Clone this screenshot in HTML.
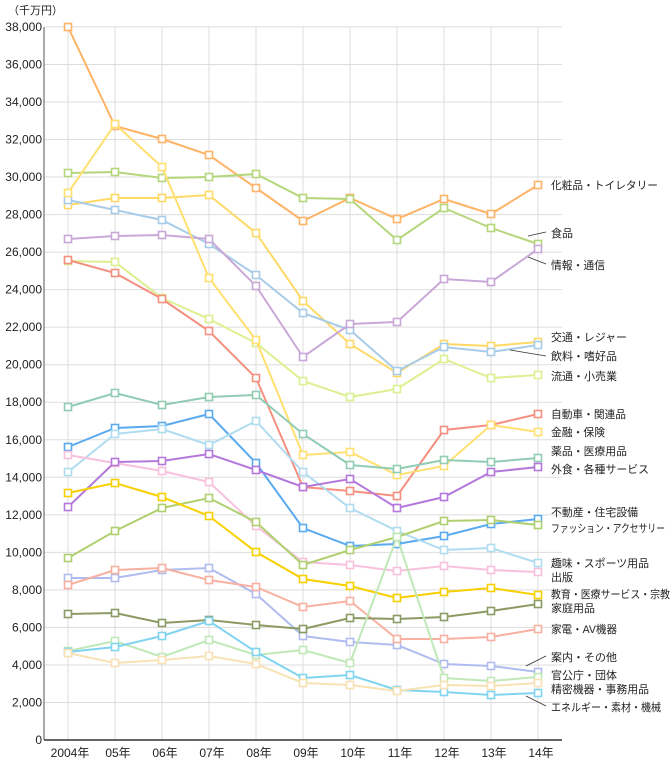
<!DOCTYPE html><html><head><meta charset="utf-8"><style>body{margin:0;background:#fff}svg{display:block;font-family:"Liberation Sans","Noto Sans CJK JP",sans-serif}</style></head><body>
<svg id="s" width="670" height="767" xmlns="http://www.w3.org/2000/svg">
<g id="grid"></g>
<text x="8" y="14" font-size="11" fill="#222">（千万円）</text>
<g font-size="12" fill="#222" text-anchor="end" id="yl"></g>
<g font-size="12" fill="#222" text-anchor="middle">
<text x="70" y="757">2004年</text><text x="118" y="757">05年</text><text x="165" y="757">06年</text><text x="212" y="757">07年</text><text x="259" y="757">08年</text><text x="306" y="757">09年</text><text x="353" y="757">10年</text><text x="400" y="757">11年</text><text x="447" y="757">12年</text><text x="494" y="757">13年</text><text x="541" y="757">14年</text></g>
<g id="series"></g>
<g stroke="#333" stroke-width="0.8"><line x1="528" y1="236" x2="546" y2="232"/><line x1="528" y1="257" x2="546" y2="264"/><line x1="510" y1="350" x2="546" y2="356"/><line x1="526" y1="666" x2="546" y2="656"/><line x1="526" y1="696" x2="546" y2="706"/></g>
<g font-size="11" fill="#222" lengthAdjust="spacingAndGlyphs">
<text x="551" y="189" textLength="107" lengthAdjust="spacingAndGlyphs">化粧品・トイレタリー</text>
<text x="551" y="237" textLength="22" lengthAdjust="spacingAndGlyphs">食品</text>
<text x="551" y="269" textLength="54" lengthAdjust="spacingAndGlyphs">情報・通信</text>
<text x="551" y="341" textLength="76" lengthAdjust="spacingAndGlyphs">交通・レジャー</text>
<text x="551" y="360" textLength="66" lengthAdjust="spacingAndGlyphs">飲料・嗜好品</text>
<text x="551" y="380" textLength="66" lengthAdjust="spacingAndGlyphs">流通・小売業</text>
<text x="551" y="418" textLength="75" lengthAdjust="spacingAndGlyphs">自動車・関連品</text>
<text x="551" y="436" textLength="54" lengthAdjust="spacingAndGlyphs">金融・保険</text>
<text x="551" y="455" textLength="76" lengthAdjust="spacingAndGlyphs">薬品・医療用品</text>
<text x="551" y="473" textLength="98" lengthAdjust="spacingAndGlyphs">外食・各種サービス</text>
<text x="551" y="516" textLength="87" lengthAdjust="spacingAndGlyphs">不動産・住宅設備</text>
<text x="551" y="532" textLength="114" lengthAdjust="spacingAndGlyphs">ファッション・アクセサリー</text>
<text x="551" y="567" textLength="98" lengthAdjust="spacingAndGlyphs">趣味・スポーツ用品</text>
<text x="551" y="581" textLength="22" lengthAdjust="spacingAndGlyphs">出版</text>
<text x="551" y="598" textLength="119" lengthAdjust="spacingAndGlyphs">教育・医療サービス・宗教</text>
<text x="551" y="612" textLength="44" lengthAdjust="spacingAndGlyphs">家庭用品</text>
<text x="551" y="633" textLength="66" lengthAdjust="spacingAndGlyphs">家電・AV機器</text>
<text x="551" y="661" textLength="66" lengthAdjust="spacingAndGlyphs">案内・その他</text>
<text x="551" y="679" textLength="66" lengthAdjust="spacingAndGlyphs">官公庁・団体</text>
<text x="551" y="693" textLength="98" lengthAdjust="spacingAndGlyphs">精密機器・事務用品</text>
<text x="551" y="711" textLength="110" lengthAdjust="spacingAndGlyphs">エネルギー・素材・機械</text></g>
</svg>
<script>
var NS="http://www.w3.org/2000/svg";
function el(p,t,a){var e=document.createElementNS(NS,t);for(var k in a)e.setAttribute(k,a[k]);p.appendChild(e);return e;}
var g=document.getElementById("grid"),yl=document.getElementById("yl");
for(var i=0;i<=19;i++){var y=740-i*37.53;el(g,"line",{x1:44,x2:562,y1:y,y2:y,stroke:"#ddd","stroke-width":1});var t=el(yl,"text",{x:42,y:y+4});t.textContent=i==0?"0":(i*2)+",000";}
for(var j=0;j<11;j++){var x=68+j*47;el(g,"line",{x1:x,x2:x,y1:27,y2:740,stroke:"#ddd","stroke-width":1});}
el(g,"line",{x1:44,x2:44,y1:27,y2:740,stroke:"#555","stroke-width":1});
el(g,"line",{x1:44,x2:562,y1:740,y2:740,stroke:"#333","stroke-width":1.5});
var S=[
["#ffb366",[27,126,139,155,188,221,198,219,199,214,185]],
["#b5d67a",[173,172,178,177,174,198,199,240,208,228,244]],
["#ffd966",[205,198,198,195,233,301,344,373,344,346,342]],
["#a8cce8",[200,210,220,244,275,313,330,371,347,352,345]],
["#c9a8d8",[239,236,235,239,286,357,324,322,279,282,249]],
["#dcf08f",[261,262,298,319,343,381,397,389,359,378,375]],
["#f59080",[260,273,299,331,378,487,491,496,430,425,414]],
["#ffe070",[193,124,167,278,340,455,452,475,466,425,432]],
["#90ccb4",[407,393,405,397,395,434,465,469,460,462,458]],
["#5aaaf0",[447,428,426,414,463,528,546,544,536,524,519]],
["#b0dcf0",[472,434,429,445,421,472,508,531,550,548,563]],
["#f8c0dc",[455,463,471,482,526,562,565,571,566,570,572]],
["#b478dc",[507,462,461,454,470,487,479,508,497,472,467]],
["#b0d070",[558,531,508,498,522,565,550,537,521,520,525]],
["#f8d000",[493,483,497,516,552,579,586,598,592,588,595]],
["#b0bcf0",[578,578,570,568,594,636,642,645,664,666,672]],
["#f8b0a0",[585,570,568,580,587,607,601,639,639,637,629]],
["#8c9a64",[614,613,623,620,625,629,618,619,617,611,604]],
["#c0e8b8",[651,641,657,640,655,650,663,537,678,681,677]],
["#80d4f0",[652,647,636,621,652,678,675,690,692,695,693]],
["#f8e2b4",[653,663,660,656,664,683,685,691,685,686,683]]];
var sg=document.getElementById("series");
S.forEach(function(s){var pts=s[1].map(function(y,j){return (68+j*47)+","+y}).join(" ");
el(sg,"polyline",{points:pts,fill:"none",stroke:s[0],"stroke-width":2});
s[1].forEach(function(y,j){el(sg,"rect",{x:68+j*47-3.5,y:y-3.5,width:7,height:7,fill:"#fff",stroke:s[0],"stroke-width":1.6});});});
</script></body></html>
